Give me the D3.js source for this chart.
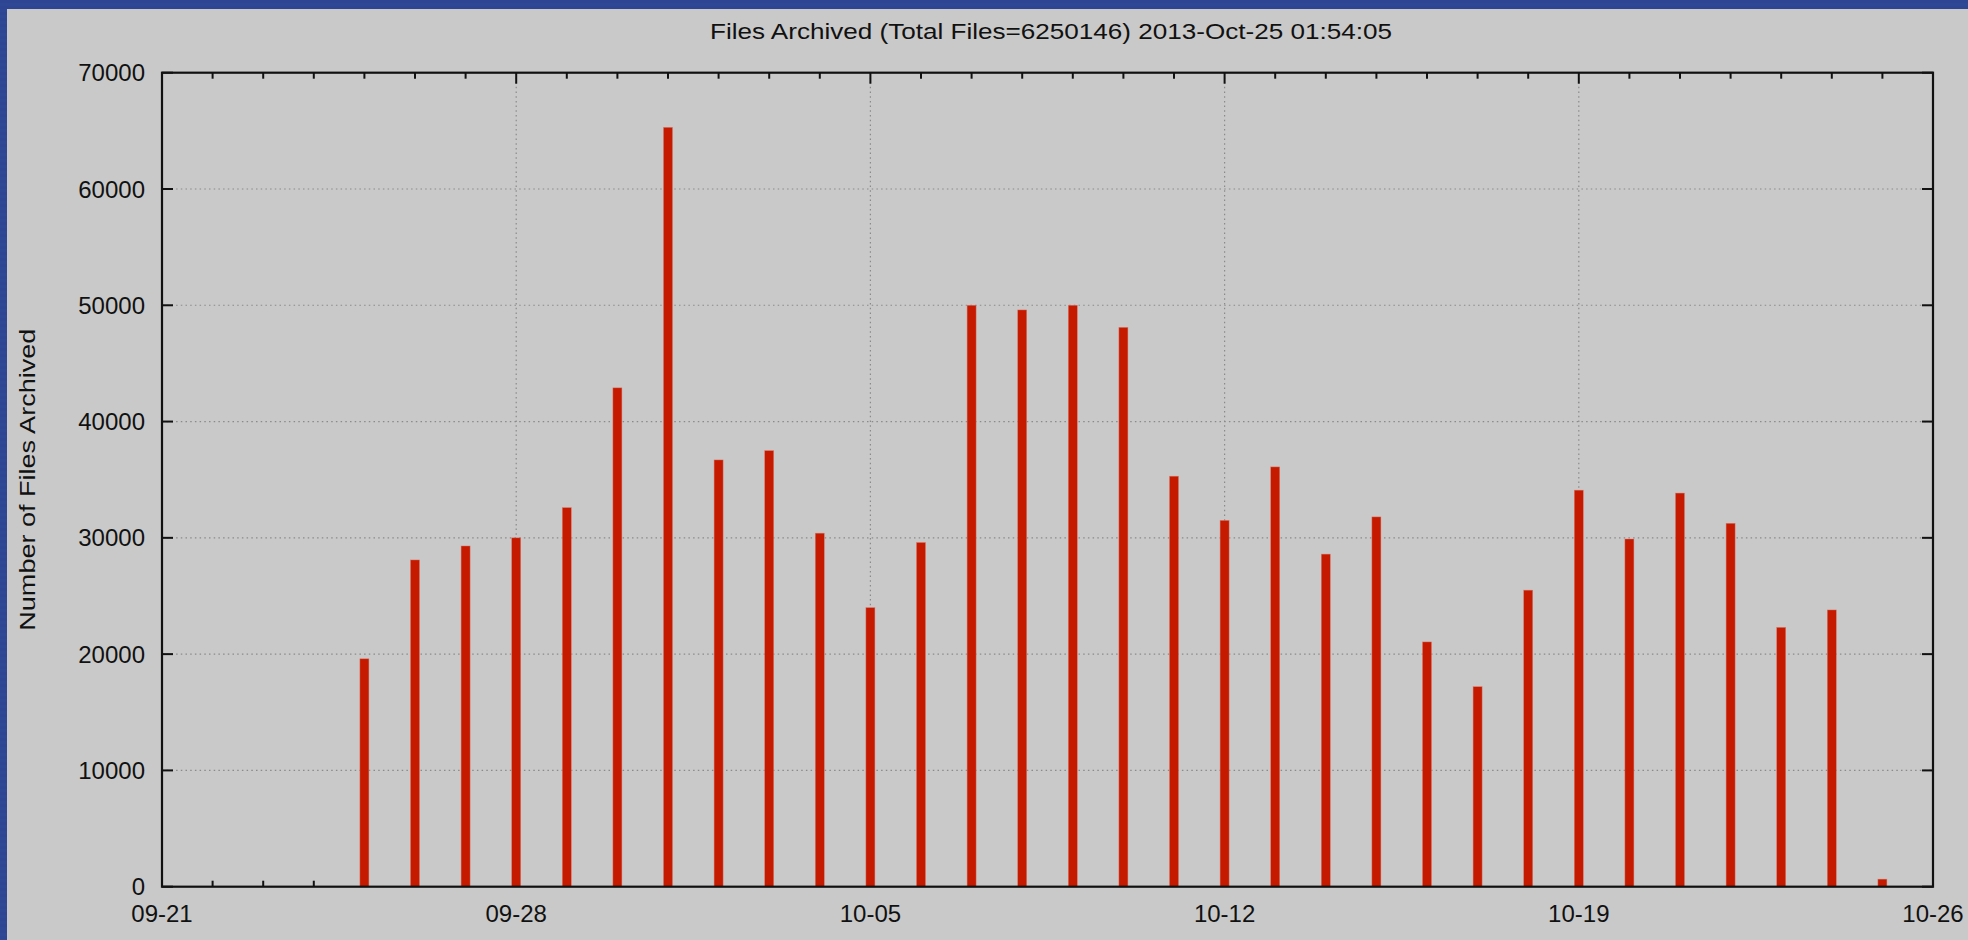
<!DOCTYPE html>
<html><head><meta charset="utf-8">
<script src="https://cdn.jsdelivr.net/npm/d3@7/dist/d3.min.js"></script>
<style>
  html,body{margin:0;padding:0;background:#2f4896;}
  svg{display:block;}
</style>
</head><body>
<svg id="chart" width="1968" height="940"></svg>
<script>
// ---- data ----
const days = ["2013-09-25","2013-09-26","2013-09-27","2013-09-28","2013-09-29","2013-09-30",
  "2013-10-01","2013-10-02","2013-10-03","2013-10-04","2013-10-05","2013-10-06","2013-10-07",
  "2013-10-08","2013-10-09","2013-10-10","2013-10-11","2013-10-12","2013-10-13","2013-10-14",
  "2013-10-15","2013-10-16","2013-10-17","2013-10-18","2013-10-19","2013-10-20","2013-10-21",
  "2013-10-22","2013-10-23","2013-10-24","2013-10-25"];
const filesArchived = [19600,28100,29300,30000,32600,42900,
  65300,36700,37500,30400,24000,29600,50000,
  49600,50000,48100,35300,31500,36100,28600,
  31800,21050,17200,25500,34100,29900,33850,
  31250,22300,23800,650];
const yTickValues = [0,10000,20000,30000,40000,50000,60000,70000];
const xTickLabels = ["09-21","09-28","10-05","10-12","10-19","10-26"];
const xDomain = ["2013-09-21","2013-10-26"];
const titleText = "Files Archived (Total Files=6250146) 2013-Oct-25 01:54:05";
const yAxisLabel = "Number of Files Archived";

// ---- layout ----
const W = 1968, H = 940;
const plot = {left:162, top:72.7, right:1933, bottom:886.7};
const parse = d3.utcParse("%Y-%m-%d");
const fmt = d3.utcFormat("%m-%d");
const fontFam = "'Liberation Sans', Arial, Helvetica, sans-serif";

const svg = d3.select("#chart");

// blue backdrop + gray panel
svg.append("rect").attr("x",0).attr("y",0).attr("width",W).attr("height",H).attr("fill","#2f4896");
const stripes = d3.range(0, H, 6);
svg.append("g").selectAll("rect").data(stripes).join("rect")
  .attr("x",0).attr("y",d=>d).attr("width",W).attr("height",3)
  .attr("fill","#2a4190").attr("opacity",0.35);
svg.append("rect").attr("x",7).attr("y",9).attr("width",W-7).attr("height",H-9).attr("fill","#c9c9c9");

const x = d3.scaleUtc().domain(xDomain.map(parse)).range([plot.left, plot.right]);
const y = d3.scaleLinear().domain([0,70000]).range([plot.bottom, plot.top]);

const majorX = xTickLabels.map((l,i)=>d3.utcDay.offset(parse(xDomain[0]), i*7));
const minorX = d3.utcDay.range(parse(xDomain[0]), d3.utcDay.offset(parse(xDomain[1]),1));

// grid lines (dotted)
const grid = svg.append("g").attr("stroke","#8a8a8a").attr("stroke-width",1.2)
  .attr("stroke-dasharray","1.5,3.2");
grid.selectAll("line.gy").data(yTickValues.filter(v=>v>0 && v<70000)).join("line")
  .attr("x1",plot.left).attr("x2",plot.right).attr("y1",d=>y(d)).attr("y2",d=>y(d));
grid.selectAll("line.gx").data(majorX.slice(1,-1)).join("line")
  .attr("y1",plot.top).attr("y2",plot.bottom).attr("x1",d=>x(d)).attr("x2",d=>x(d));

// ticks (drawn beneath bars)
const tk = svg.append("g").attr("stroke","#111").attr("stroke-width",2);
const isMajor = d => majorX.some(m=>+m===+d);
tk.selectAll("line.xb").data(minorX).join("line")
  .attr("x1",d=>x(d)).attr("x2",d=>x(d))
  .attr("y1",plot.bottom).attr("y2",d=>plot.bottom-(isMajor(d)?11:6));
tk.selectAll("line.xt").data(minorX).join("line")
  .attr("x1",d=>x(d)).attr("x2",d=>x(d))
  .attr("y1",plot.top).attr("y2",d=>plot.top+(isMajor(d)?11:6));
tk.selectAll("line.yl").data(yTickValues).join("line")
  .attr("x1",plot.left).attr("x2",plot.left+11).attr("y1",d=>y(d)).attr("y2",d=>y(d));
tk.selectAll("line.yr").data(yTickValues).join("line")
  .attr("x1",plot.right).attr("x2",plot.right-11).attr("y1",d=>y(d)).attr("y2",d=>y(d));

// bars (impulses)
const barW = 9;
svg.append("g").selectAll("rect").data(days.map((d,i)=>({date:parse(d), v:filesArchived[i]})))
  .join("rect")
  .attr("x",d=>x(d.date)-barW/2)
  .attr("width",barW)
  .attr("y",d=>y(d.v))
  .attr("height",d=>y(0)-y(d.v))
  .attr("fill","#c61a00")
  .attr("stroke","#e07a6a").attr("stroke-width",0.6).attr("stroke-opacity",0.7);

// frame
svg.append("rect").attr("x",plot.left).attr("y",plot.top)
  .attr("width",plot.right-plot.left).attr("height",plot.bottom-plot.top)
  .attr("fill","none").attr("stroke","#111").attr("stroke-width",2.2);

// tick labels
svg.append("g").selectAll("text").data(yTickValues).join("text")
  .attr("x",145).attr("y",d=>y(d)).attr("dy","0.36em")
  .attr("text-anchor","end").attr("font-family",fontFam).attr("font-size",24)
  .attr("fill","#111").text(d=>d3.format("d")(d));
svg.append("g").selectAll("text").data(majorX).join("text")
  .attr("x",d=>x(d)).attr("y",921.5)
  .attr("text-anchor","middle").attr("font-family",fontFam).attr("font-size",24)
  .attr("fill","#111").text((d,i)=>xTickLabels[i] || fmt(d));

// title
svg.append("text").attr("x",1051).attr("y",38.5).attr("text-anchor","middle")
  .attr("font-family",fontFam).attr("font-size",22.5).attr("fill","#111")
  .attr("textLength",682).attr("lengthAdjust","spacingAndGlyphs")
  .text(titleText);

// y-axis label
svg.append("text").attr("transform",`translate(34.5,${(plot.top+plot.bottom)/2}) rotate(-90)`)
  .attr("text-anchor","middle").attr("font-family",fontFam).attr("font-size",22.5)
  .attr("fill","#111").attr("textLength",302).attr("lengthAdjust","spacingAndGlyphs")
  .text(yAxisLabel);
</script>
</body></html>
